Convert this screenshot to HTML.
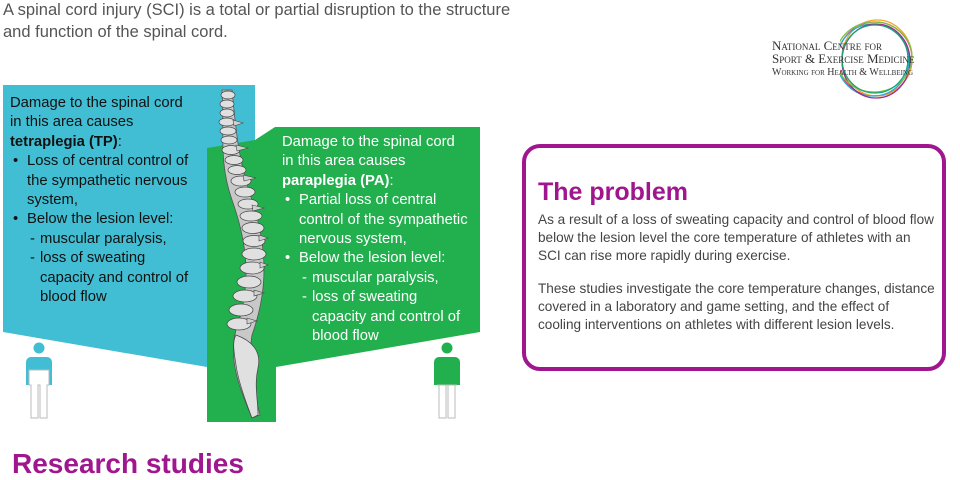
<!DOCTYPE html>
<html><head><meta charset="utf-8"><style>
body{margin:0;width:960px;height:480px;background:#fff;position:relative;overflow:hidden;font-family:"Liberation Sans",sans-serif}
.t{position:absolute;white-space:nowrap}
#intro{left:3px;top:-1px;font-size:16.5px;line-height:22px;color:#555}
.panel{position:absolute;font-size:14.8px;line-height:19.4px;color:#111;white-space:nowrap}
.panel.g{color:#fff}
.panel .b{position:relative;padding-left:17px}
.panel .b:before{content:"•";position:absolute;left:3px}
.panel .d{position:relative;padding-left:13px;margin-left:17px}
.panel .d:before{content:"-";position:absolute;left:3px}
#prob{position:absolute;left:522px;top:144px;width:416px;height:219px;border:4px solid #a0168e;border-radius:18px}
#prob h2{margin:0;position:absolute;left:12px;top:30px;font-size:25px;color:#a0168e;font-weight:bold}
#prob p{margin:0;position:absolute;left:12px;font-size:13.6px;line-height:18px;color:#444;white-space:nowrap}
</style></head><body>
<div class="t" id="intro">A spinal cord injury (SCI) is a total or partial disruption to the structure<br>and function of the spinal cord.</div>

<svg style="position:absolute;left:0;top:0" width="960" height="480">
<polygon points="3,85 255,85 255,300 207,367 3,332" fill="#41bed3"/>
<polygon points="207,148 255,140 275,127 480,127 480,332 276,367 276,422 207,422" fill="#22b04e"/>
<g fill="#c8c8c8" stroke="#555" stroke-width="0.8">
<path d="M222,90 C225,130 218,160 232,200 C250,250 250,290 236,330 C228,360 240,390 252,418 L260,415 C252,385 248,360 252,335 C268,290 268,250 252,200 C238,160 236,130 232,90 Z"/>
</g>
<g fill="#e0e0e0" stroke="#444" stroke-width="0.7">
<ellipse cx="228" cy="95" rx="7" ry="4"/><ellipse cx="227" cy="104" rx="7" ry="4"/><ellipse cx="227" cy="113" rx="7" ry="4"/><ellipse cx="227" cy="122" rx="8" ry="4"/><ellipse cx="228" cy="131" rx="8" ry="4"/><ellipse cx="229" cy="140" rx="8" ry="4"/><ellipse cx="231" cy="150" rx="9" ry="4.5"/><ellipse cx="234" cy="160" rx="9" ry="4.5"/><ellipse cx="237" cy="170" rx="9" ry="4.5"/><ellipse cx="241" cy="181" rx="10" ry="5"/><ellipse cx="245" cy="192" rx="10" ry="5"/><ellipse cx="248" cy="204" rx="10" ry="5"/><ellipse cx="251" cy="216" rx="11" ry="5"/><ellipse cx="253" cy="228" rx="11" ry="5.5"/><ellipse cx="254" cy="241" rx="11" ry="5.5"/><ellipse cx="254" cy="254" rx="12" ry="6"/><ellipse cx="252" cy="268" rx="12" ry="6"/><ellipse cx="249" cy="282" rx="12" ry="6"/><ellipse cx="245" cy="296" rx="12" ry="6"/><ellipse cx="241" cy="310" rx="12" ry="6"/><ellipse cx="239" cy="324" rx="12" ry="6"/>
<path d="M236,335 C250,340 262,350 258,368 C254,385 258,400 258,415 L252,418 C245,400 238,380 236,365 C234,352 232,342 236,335 Z"/>
</g>
<g fill="#d0d0d0" stroke="#444" stroke-width="0.6">
<path d="M233,120 l10,3 -9,3z"/><path d="M236,145 l12,3 -11,3z"/><path d="M243,175 l13,3 -12,3z"/><path d="M252,205 l12,3 -11,3z"/><path d="M259,235 l9,3 -9,3z"/><path d="M260,262 l8,3 -8,3z"/><path d="M254,290 l10,3 -10,3z"/><path d="M247,318 l10,3 -10,3z"/>
</g>
<g>
<circle cx="39" cy="348" r="5.5" fill="#41bed3"/>
<path d="M26,385 V362 a5,5 0 0 1 5,-5 h16 a5,5 0 0 1 5,5 V385 h-3 V370 h-20 v15z" fill="#41bed3"/>
<path d="M29,370 h20 v15 h-2 v33 h-7 v-33 h-2 v33 h-7 v-33 h-2z" fill="#fff" stroke="#bbb" stroke-width="1"/>
<circle cx="447" cy="348" r="5.5" fill="#22b04e"/>
<path d="M434,385 V362 a5,5 0 0 1 5,-5 h16 a5,5 0 0 1 5,5 V385 h-3 V385 h-20 v0 h-3z" fill="#22b04e"/>
<path d="M437,385 h20 v0 h-2 v33 h-7 v-33 h-2 v33 h-7 v-33 h-2z" fill="#fff" stroke="#bbb" stroke-width="1"/>
</g>
<g fill="none" stroke-width="1.3">
<ellipse cx="875" cy="59" rx="37" ry="37" stroke="#e8336b"/>
<ellipse cx="877" cy="58" rx="35" ry="38" stroke="#f5a623"/>
<ellipse cx="873" cy="60" rx="36" ry="36" stroke="#2aa9d8"/>
<ellipse cx="876" cy="61" rx="34" ry="37" stroke="#9b2d8f"/>
<ellipse cx="874" cy="57" rx="38" ry="35" stroke="#7cc242"/>
<ellipse cx="875" cy="59" rx="33" ry="34" stroke="#1aa37a"/>
</g>
<rect x="770" y="38" width="70" height="40" fill="#fff"/>
</svg>

<div class="t" style="left:772px;top:40px;font-family:'Liberation Serif',serif;font-size:13px;line-height:12.5px;color:#333;font-variant:small-caps">National Centre for<br>Sport &amp; Exercise Medicine<br><span style="font-size:10px">Working for Health &amp; Wellbeing</span></div>

<div class="panel" style="left:10px;top:94px">Damage to the spinal cord<br>in this area causes<br><b>tetraplegia (TP)</b>:
<div class="b">Loss of central control of<br>the sympathetic nervous<br>system,</div>
<div class="b">Below the lesion level:</div>
<div class="d">muscular paralysis,</div>
<div class="d">loss of sweating<br>capacity and control of<br>blood flow</div></div>

<div class="panel g" style="left:282px;top:133px">Damage to the spinal cord<br>in this area causes<br><b>paraplegia (PA)</b>:
<div class="b">Partial loss of central<br>control of the sympathetic<br>nervous system,</div>
<div class="b">Below the lesion level:</div>
<div class="d">muscular paralysis,</div>
<div class="d">loss of sweating<br>capacity and control of<br>blood flow</div></div>

<div id="prob">
<h2>The problem</h2>
<p style="top:63px">As a result of a loss of sweating capacity and control of blood flow<br>below the lesion level the core temperature of athletes with an<br>SCI can rise more rapidly during exercise.</p>
<p style="top:132px">These studies investigate the core temperature changes, distance<br>covered in a laboratory and game setting, and the effect of<br>cooling interventions on athletes with different lesion levels.</p>
</div>

<div class="t" style="left:12px;top:448px;font-size:28px;font-weight:bold;color:#a0168e">Research studies</div>
</body></html>
